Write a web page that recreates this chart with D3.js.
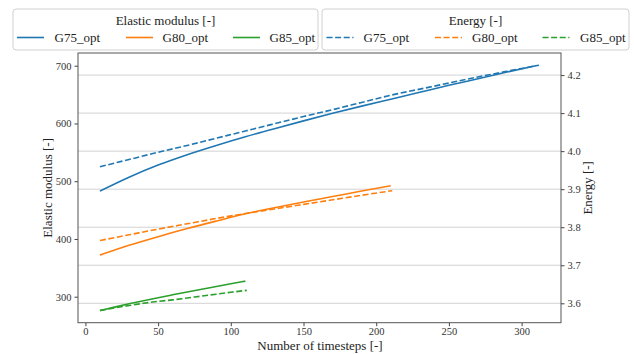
<!DOCTYPE html>
<html><head><meta charset="utf-8">
<script src="https://cdn.jsdelivr.net/npm/d3@7"></script>
<style>
html,body{margin:0;padding:0;background:#fff;}
</style></head>
<body><svg id="c" width="634" height="354"></svg>
<script>
// ---- data ----
const seriesNames = ["G75_opt", "G80_opt", "G85_opt"];
const colors = ["#1f77b4", "#ff7f0e", "#2ca02c"];

const g75Steps = [10,30,50,70,90,110,130,150,170,190,210,230,250,270,290,310];
const g75Modulus = [483,507,528,546,562,577,591,604.5,617.5,630,642,654,666,677.5,689,700];
const g75EnergySteps = [10,30,50,70,90,110,130,150,170,190,210,230,250,270,290,312];
const g75Energy = [3.959,3.978,3.997,4.015,4.034,4.053,4.072,4.091,4.109,4.128,4.147,4.163,4.179,4.195,4.210,4.226];

const g80Steps = [10,30,50,70,90,110,130,150,170,190,210];
const g80Modulus = [372,389,404,418,431,443.5,454,464,473.5,483,492];
const g80EnergySteps = [10,30,50,70,90,110,130,150,170,190,211];
const g80Energy = [3.765,3.780,3.795,3.809,3.823,3.836,3.848,3.860,3.872,3.884,3.896];

const g85Steps = [10,20,30,40,50,60,70,80,90,100,110];
const g85Modulus = [276,282,287.7,293.1,298.3,303.3,308.2,313,317.7,322.4,327];
const g85EnergySteps = [10,20,30,40,50,60,70,80,90,100,111];
const g85Energy = [3.581,3.588,3.594,3.600,3.605,3.609,3.614,3.619,3.624,3.629,3.634];

const xTicks = [0,50,100,150,200,250,300];
const yLeftTicks = [300,400,500,600,700];
const yRightTicks = [3.6,3.7,3.8,3.9,4.0,4.1,4.2];

const modulusTitle = "Elastic modulus [-]";
const energyTitle = "Energy [-]";
const xTitle = "Number of timesteps [-]";

// ---- layout ----
const FONT = "'Liberation Serif', 'Times New Roman', Times, 'DejaVu Serif', serif";
const L = 78, R = 561, T = 53, B = 322.7;
const svg = d3.select("#c").attr("font-family", FONT);

const x = d3.scaleLinear().domain([-5.1, 327.1]).range([L, R]);
const yL = d3.scaleLinear().domain([255, 722]).range([B, T]);
const yR = d3.scaleLinear().domain([3.549, 4.258]).range([B, T]);

// grid (from right axis)
svg.append("g").selectAll("line").data(yRightTicks).join("line")
  .attr("x1", L).attr("x2", R)
  .attr("y1", d => yR(d)).attr("y2", d => yR(d))
  .attr("stroke", "#d3d3d3").attr("stroke-width", 1);

const modSets = [[g75Steps,g75Modulus],[g80Steps,g80Modulus],[g85Steps,g85Modulus]];
const enSets = [[g75EnergySteps,g75Energy],[g80EnergySteps,g80Energy],[g85EnergySteps,g85Energy]];

const lineL = d3.line().x(d => x(d[0])).y(d => yL(d[1])).curve(d3.curveMonotoneX);
const lineR = d3.line().x(d => x(d[0])).y(d => yR(d[1])).curve(d3.curveMonotoneX);

modSets.forEach((s, i) => {
  svg.append("path").datum(s[0].map((v, j) => [v, s[1][j]]))
    .attr("d", lineL).attr("fill", "none").attr("stroke", colors[i]).attr("stroke-width", 1.6);
});
enSets.forEach((s, i) => {
  svg.append("path").datum(s[0].map((v, j) => [v, s[1][j]]))
    .attr("d", lineR).attr("fill", "none").attr("stroke", colors[i]).attr("stroke-width", 1.6)
    .attr("stroke-dasharray", "6,2.6");
});

// axes
function styleAxis(g) {
  g.attr("font-family", FONT).attr("font-size", 10.5);
  g.selectAll("path").remove();
  g.selectAll("line").attr("stroke", "#444");
  g.selectAll("text").attr("fill", "#333").attr("font-family", FONT);
}
svg.append("g").attr("transform", `translate(0,${B})`)
  .call(d3.axisBottom(x).tickValues(xTicks).tickSize(3.5).tickPadding(1.5)).call(styleAxis);
svg.append("g").attr("transform", `translate(${L},0)`)
  .call(d3.axisLeft(yL).tickValues(yLeftTicks).tickSize(3.5).tickPadding(3)).call(styleAxis);
svg.append("g").attr("transform", `translate(${R},0)`)
  .call(d3.axisRight(yR).tickValues(yRightTicks).tickFormat(d3.format(".1f")).tickSize(3.5).tickPadding(3)).call(styleAxis);

// frame
svg.append("rect").attr("x", L).attr("y", T).attr("width", R - L).attr("height", B - T)
  .attr("fill", "none").attr("stroke", "#555").attr("stroke-width", 1);

// axis titles
function label(sel) { return sel.attr("font-family", FONT).attr("font-size", 13).attr("fill", "#222"); }
label(svg.append("text").attr("x", 320).attr("y", 349.5).attr("text-anchor", "middle")).text(xTitle);
label(svg.append("text").attr("transform", `translate(52,${(T + B) / 2}) rotate(-90)`).attr("text-anchor", "middle")).text(modulusTitle);
label(svg.append("text").attr("transform", `translate(592,${(T + B) / 2}) rotate(-90)`).attr("text-anchor", "middle")).text(energyTitle);

// legends
function legend(x0, x1, title, dashed, handleX, textX) {
  const g = svg.append("g");
  g.append("rect").attr("x", x0).attr("y", 9).attr("width", x1 - x0).attr("height", 41)
    .attr("rx", 3).attr("fill", "rgba(255,255,255,0.85)").attr("stroke", "#d0d0d0");
  label(g.append("text").attr("x", (x0 + x1) / 2).attr("y", 25).attr("text-anchor", "middle")).text(title);
  seriesNames.forEach((n, i) => {
    g.append("line").attr("x1", handleX[i]).attr("x2", handleX[i] + 27).attr("y1", 37.5).attr("y2", 37.5)
      .attr("stroke", colors[i]).attr("stroke-width", 1.6).attr("stroke-dasharray", dashed ? "6,2.6" : null);
    label(g.append("text").attr("x", textX[i]).attr("y", 42)).text(n);
  });
}
legend(13, 318, modulusTitle, false, [17, 126, 233], [54.5, 162.5, 269.5]);
legend(322, 629, energyTitle, true, [326.5, 435, 542.5], [363.5, 472, 580]);
</script></body></html>
